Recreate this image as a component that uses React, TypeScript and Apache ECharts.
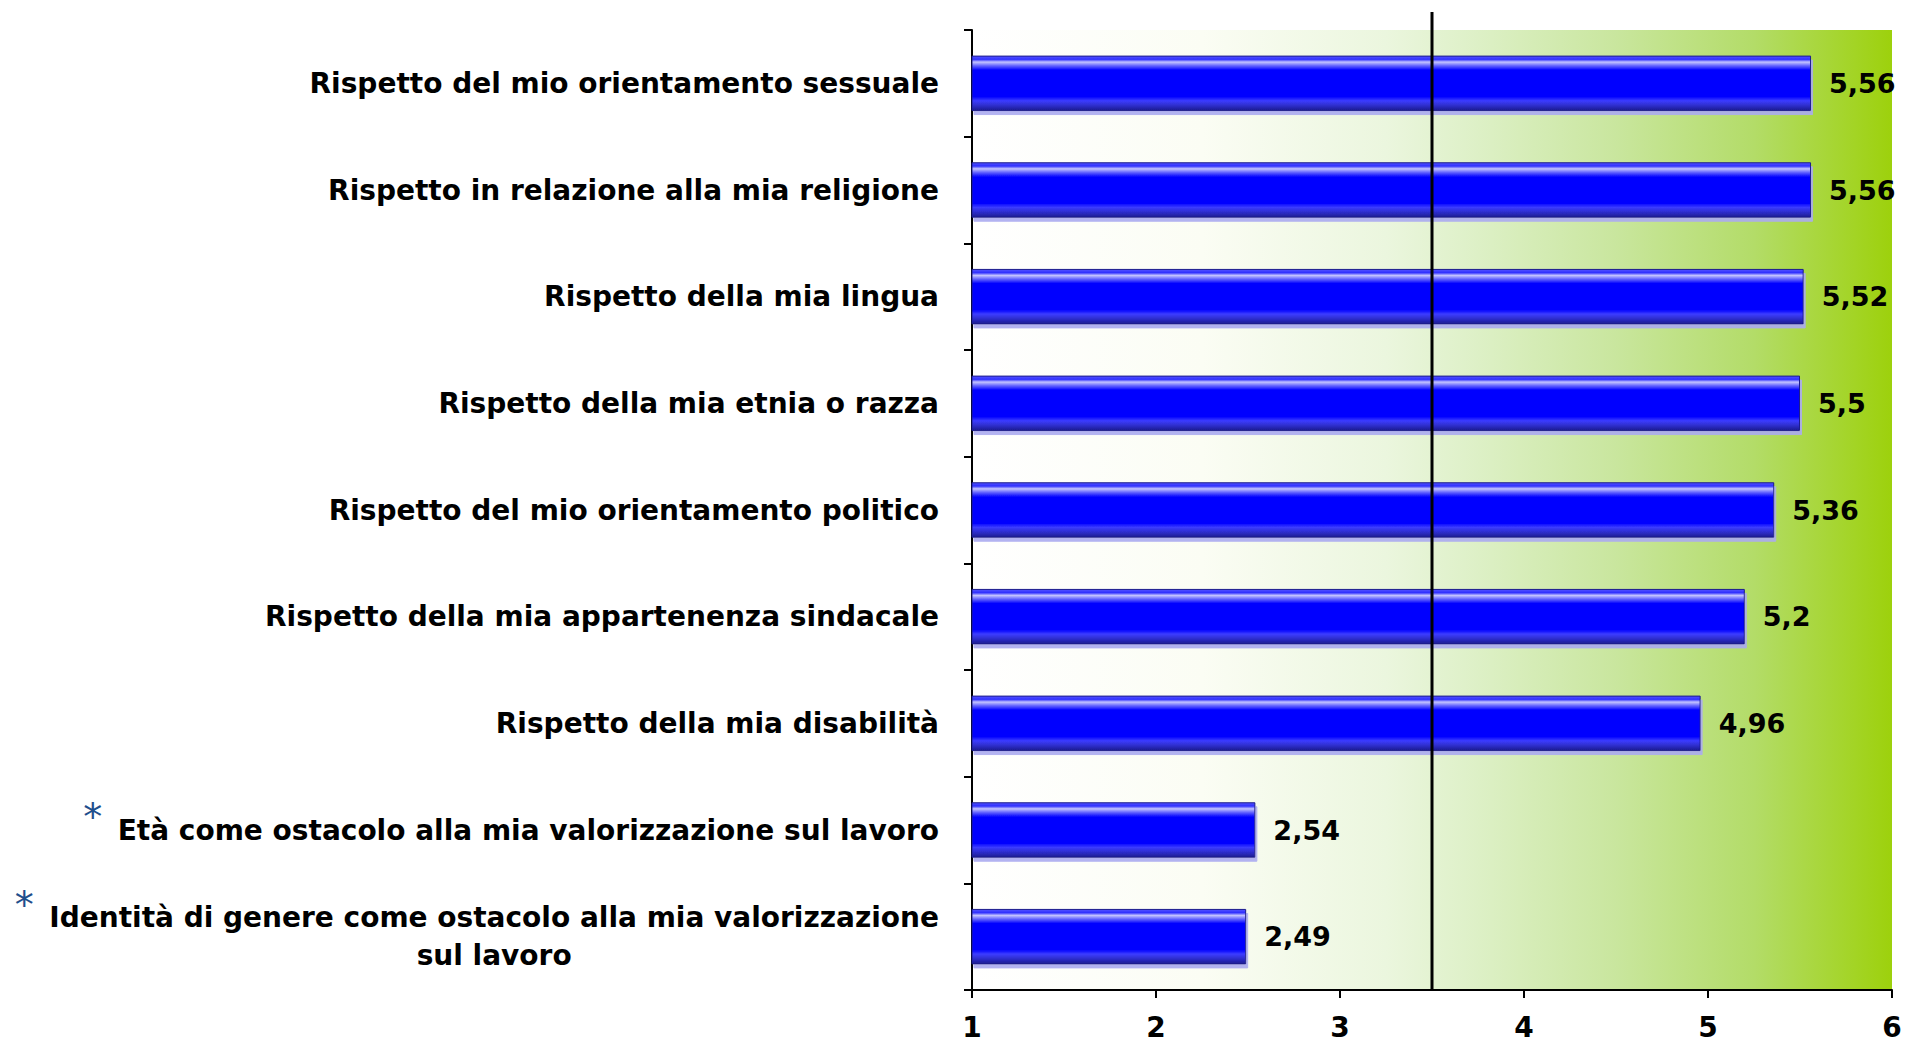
import React, { useEffect, useRef } from 'react';
import * as echarts from 'echarts';

const categories = [
  'Rispetto del mio orientamento sessuale',
  'Rispetto in relazione alla mia religione',
  'Rispetto della mia lingua',
  'Rispetto della mia etnia o razza',
  'Rispetto del mio orientamento politico',
  'Rispetto della mia appartenenza sindacale',
  'Rispetto della mia disabilità',
  'Età come ostacolo alla mia valorizzazione sul lavoro',
  'Identità di genere come ostacolo alla mia valorizzazione\nsul lavoro',
];
const values = [5.56, 5.56, 5.52, 5.5, 5.36, 5.2, 4.96, 2.54, 2.49];
const starred = [false, false, false, false, false, false, false, true, true];
const xTickValues = [1, 2, 3, 4, 5, 6];
const referenceValue = 3.5;

const W = 1905;
const H = 1045;
const GRID_LEFT = 972;
const GRID_RIGHT = 13;
const GRID_TOP = 30;
const GRID_BOTTOM = 55;
const LABEL_MARGIN = 33;
const CAT_FONT = 28;
const CAT_LINE_H = 38;
const FONT = '"DejaVu Sans", Verdana, sans-serif';

export default function App() {
  const ref = useRef<HTMLDivElement>(null);

  useEffect(() => {
    document.body.style.margin = '0';
    const chart = echarts.init(ref.current!, null, { renderer: 'svg' });

    const barGradient = new echarts.graphic.LinearGradient(0, 0, 0, 1, [
      { offset: 0, color: '#5454ff' },
      { offset: 0.06, color: '#3030ff' },
      { offset: 0.11, color: '#c4c4ff' },
      { offset: 0.18, color: '#6060ff' },
      { offset: 0.26, color: '#0000ff' },
      { offset: 0.74, color: '#0000ff' },
      { offset: 0.82, color: '#3c3cff' },
      { offset: 0.92, color: '#2b2bc4' },
      { offset: 1, color: '#1c1c90' },
    ]);

    const bgGradient = new echarts.graphic.LinearGradient(0, 0, 1, 0, [
      { offset: 0, color: '#ffffff' },
      { offset: 0.25, color: '#fbfdf4' },
      { offset: 0.45, color: '#ebf6de' },
      { offset: 0.55, color: '#ddf0c6' },
      { offset: 0.7, color: '#c9e69e' },
      { offset: 0.85, color: '#b3dc68' },
      { offset: 1, color: '#9dd10c' },
    ]);

    chart.setOption({
      animation: false,
      grid: {
        left: GRID_LEFT,
        right: GRID_RIGHT,
        top: GRID_TOP,
        bottom: GRID_BOTTOM,
        show: true,
        backgroundColor: bgGradient,
        borderWidth: 0,
      },
      xAxis: {
        type: 'value',
        min: xTickValues[0],
        max: xTickValues[xTickValues.length - 1],
        interval: 1,
        axisLine: { show: true, lineStyle: { color: '#000', width: 2 } },
        axisTick: { show: true, length: 8, lineStyle: { color: '#000', width: 2 } },
        splitLine: { show: false },
        axisLabel: {
          margin: 22,
          color: '#000',
          fontSize: 28,
          lineHeight: 30,
          fontWeight: 'bold',
          fontFamily: FONT,
        },
      },
      yAxis: {
        type: 'category',
        inverse: true,
        data: categories,
        axisLine: { show: true, lineStyle: { color: '#000', width: 2 } },
        axisTick: { show: true, length: 8, lineStyle: { color: '#000', width: 2 } },
        axisLabel: {
          margin: LABEL_MARGIN,
          color: '#000',
          formatter: (v: string) =>
            v
              .split('\n')
              .map((l) => `{c|${l}}`)
              .join('\n'),
          rich: {
            c: {
              align: 'center',
              fontSize: CAT_FONT,
              fontWeight: 'bold',
              fontFamily: FONT,
              color: '#000',
              lineHeight: CAT_LINE_H,
            },
          },
        },
      },
      series: [
        {
          type: 'bar',
          data: values,
          barWidth: '52%',
          itemStyle: {
            color: barGradient,
            borderColor: '#1a1a8c',
            borderWidth: 1,
            shadowColor: 'rgba(170,170,240,0.9)',
            shadowOffsetX: 2,
            shadowOffsetY: 4,
            shadowBlur: 0,
          },
          label: {
            show: true,
            position: 'right',
            distance: 18,
            color: '#000',
            fontSize: 27,
            fontWeight: 'bold',
            fontFamily: FONT,
            formatter: (p: any) => String(p.value).replace('.', ','),
          },
        },
      ],
    });

    // Annotations computed through the chart's own scales
    const canvas = document.createElement('canvas');
    const ctx = canvas.getContext('2d')!;
    ctx.font = `bold ${CAT_FONT}px ${FONT}`;
    const labelRight = GRID_LEFT - LABEL_MARGIN;
    const xRef = chart.convertToPixel({ xAxisIndex: 0 }, referenceValue) as number;
    const graphics: any[] = [
      {
        type: 'line',
        shape: { x1: xRef, y1: 12, x2: xRef, y2: H - GRID_BOTTOM },
        style: { stroke: '#000', lineWidth: 3 },
        z: 10,
      },
    ];
    categories.forEach((c, i) => {
      if (!starred[i]) return;
      const lines = c.split('\n');
      const width = Math.max(...lines.map((l) => ctx.measureText(l).width));
      const catY = chart.convertToPixel({ yAxisIndex: 0 }, i) as number;
      const firstLineY = catY - ((lines.length - 1) * CAT_LINE_H) / 2;
      const left = labelRight - width;
      graphics.push({
        type: 'text',
        x: left - 25,
        y: firstLineY - 22 + 9,
        style: {
          text: '*',
          fontSize: 38,
          fontFamily: FONT,
          fill: '#1f4e8c',
          align: 'center',
          verticalAlign: 'middle',
          textAlign: 'center',
          textVerticalAlign: 'middle',
        },
      });
    });
    chart.setOption({ graphic: graphics });

    return () => chart.dispose();
  }, []);

  return <div ref={ref} style={{ width: W, height: H }} />;
}
